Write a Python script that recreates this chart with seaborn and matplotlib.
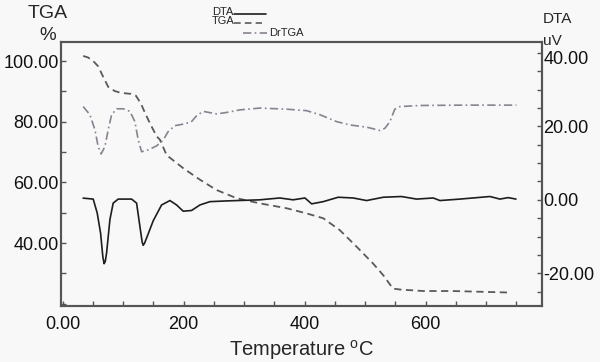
import matplotlib
matplotlib.use("Agg")
import matplotlib.pyplot as plt
import matplotlib.transforms as mtransforms
import seaborn as sns
import pandas as pd
from matplotlib.lines import Line2D
from matplotlib.ticker import MultipleLocator

# ---- data ----
tga_T = [34, 42, 50.6, 58.8, 67.1, 75.4, 86.4, 97.5, 112.9, 121.2, 129.4, 136, 144.1,
         155.4, 160.8, 171.9, 199.3, 227, 254.5, 287.6, 326, 370, 403, 430.7,
         458, 486, 513, 530, 546, 557.5, 596, 645.6, 739]
tga_pct = [101.7, 101.2, 100.0, 98.3, 94.8, 91.5, 90.1, 89.5, 89.2, 88.6, 86.0, 83.0, 79.6,
           75.2, 74.1, 69.0, 64.7, 60.9, 57.5, 54.8, 53.1, 51.5, 49.8, 48.2,
           44.3, 38.8, 33.3, 29.4, 25.0, 24.7, 24.2, 24.2, 23.7]

dta_T = [34, 50.6, 57.2, 62.8, 66.5, 68.6, 70.5, 72.7, 78.2, 83.6, 91.9, 114, 122.3, 127.8,
         131.5, 133.2, 135.5, 139.8, 149.8, 163.6, 177.4, 188.4, 199.3, 213.2, 227, 243.5, 271,
         326, 359, 381, 400.5, 411.6, 430.7, 455.5, 480.3, 502.5, 530, 560, 585,
         612.6, 623.6, 656.7, 706.3, 722.8, 736.5, 749.3]
dta_uV = [0.46, 0.2, -3.6, -9.1, -15.5, -17.4, -16.8, -14.5, -5.4, -0.9, 0.2, 0.2, -0.9, -7.3,
          -11.5, -12.4, -11.8, -10.0, -5.7, -1.4, -0.2, -1.4, -3.1, -2.9, -1.4, -0.5, -0.3,
          0.0, 0.5, 0.0, 0.5, -1.1, -0.5, 0.7, 0.5, -0.2, 0.7, 0.9, 0.2,
          0.5, -0.2, 0.2, 0.9, 0.2, 0.6, 0.2]

drtga_T = [34, 45.1, 53.4, 58.8, 63.6, 69.9, 75.4, 81, 89.3, 100.2, 111.2, 119.5,
           125, 130.6, 141.5, 155.4, 166.3, 174.5, 185.6, 202, 213, 221.5, 232.4,
           254.5, 271, 293, 326, 370, 403, 425, 453, 475, 502.5, 524.5, 532.7,
           541, 549, 557.5, 590.6, 662, 750]
drtga_val = [25.4, 23.2, 19.1, 14.5, 12.5, 14.5, 19.1, 23.2, 24.8, 24.8, 24.1, 21.3,
             16.3, 13.1, 13.6, 14.7, 16.3, 18.6, 20.2, 20.7, 21.3, 22.9, 24.1,
             23.4, 23.8, 24.5, 25.0, 24.7, 24.3, 23.2, 21.3, 20.4, 19.8, 18.9, 19.5,
             21.3, 24.7, 25.4, 25.7, 25.8, 25.8]

x_ticks = [0, 200, 400, 600]
x_tick_labels = ["0.00", "200", "400", "600"]
left_ticks = [40, 60, 80, 100]
left_tick_labels = ["40.00", "60.00", "80.00", "100.00"]
right_ticks = [-20, 0, 20, 40]
right_tick_labels = ["-20.00", "0.00", "20.00", "40.00"]

tga_df = pd.DataFrame({"T": tga_T, "v": tga_pct})
dta_df = pd.DataFrame({"T": dta_T, "v": dta_uV})
dr_df = pd.DataFrame({"T": drtga_T, "v": drtga_val})

# ---- style ----
sns.set_style("white")
plt.rcParams['font.family'] = ['Liberation Sans', 'DejaVu Sans']
bg = '#f8f8f8'
spine_c = '#555555'

fig = plt.figure(figsize=(6, 3.62), dpi=100, facecolor=bg)
ax = fig.add_axes([0.101, 0.155, 0.802, 0.729])
ax.set_facecolor(bg)
ax2 = ax.twinx()

c_dta = '#1e1e1e'
c_tga = '#5a5a5a'
c_dr = '#8a8290'

sns.lineplot(data=tga_df, x="T", y="v", ax=ax, color=c_tga, linewidth=1.3,
             linestyle=(0, (4, 2.5)), sort=False)
sns.lineplot(data=dta_df, x="T", y="v", ax=ax2, color=c_dta, linewidth=1.2,
             sort=False)
sns.lineplot(data=dr_df, x="T", y="v", ax=ax2, color=c_dr, linewidth=1.2,
             linestyle=(0, (5, 2, 1, 2)), sort=False)

ax.set_xlim(-3.3, 792)
ax.set_ylim(19.3, 106.3)
ax2.set_ylim(-28.9, 43.0)

ax.set_xticks(x_ticks, x_tick_labels)
ax.set_yticks(left_ticks, left_tick_labels)
ax2.set_yticks(right_ticks, right_tick_labels)
ax.xaxis.set_minor_locator(MultipleLocator(50))
ax.yaxis.set_minor_locator(MultipleLocator(10))
ax2.yaxis.set_minor_locator(MultipleLocator(5))

ax.set_xlabel("Temperature $^\\mathregular{o}$C", fontsize=14.5, labelpad=4)
ax.set_ylabel("")
ax2.set_ylabel("")

for a in (ax, ax2):
    for s in a.spines.values():
        s.set_color(spine_c)
        s.set_linewidth(1.5)
    a.tick_params(which='both', direction='in', length=3.5, width=1, color=spine_c,
                  labelsize=13, labelcolor='#111111')
ax.tick_params(axis='x', which='both', bottom=True, pad=7)
ax.tick_params(axis='y', which='both', left=True, pad=1.5)
ax2.tick_params(axis='y', which='both', right=True, pad=1)

# top right label sits a little lower, below the "uV" unit
top_lbl = ax2.get_yticklabels()[-1]
top_lbl.set_transform(top_lbl.get_transform() +
                      mtransforms.ScaledTranslation(0, -4/100, fig.dpi_scale_trans))

# axis titles
fig.text(48/600, 1-14/362, "TGA", ha='center', va='center', fontsize=14)
fig.text(48/600, 1-35/362, "%", ha='center', va='center', fontsize=13.5)
fig.text(557/600, 1-19/362, "DTA", ha='center', va='center', fontsize=11)
fig.text(543/600, 1-41/362, "uV", ha='left', va='center', fontsize=11)

# legend (staggered like the reference)
fig.text(233/600, 1-12/362, "DTA", ha='right', va='center', fontsize=8)
fig.add_artist(Line2D([234/600, 266/600], [1-14/362, 1-14/362], color=c_dta, lw=1.2))
fig.text(234/600, 1-21/362, "TGA", ha='right', va='center', fontsize=8)
fig.add_artist(Line2D([234/600, 262/600], [1-23/362, 1-23/362], color=c_tga, lw=1.2,
                      linestyle=(0, (4, 2.5))))
fig.add_artist(Line2D([243/600, 267/600], [1-33/362, 1-33/362], color=c_dr, lw=1.2,
                      linestyle=(0, (5, 2, 1, 2))))
fig.text(269/600, 1-33/362, "DrTGA", ha='left', va='center', fontsize=8)

fig.savefig("out.png", dpi=100, facecolor=bg)
